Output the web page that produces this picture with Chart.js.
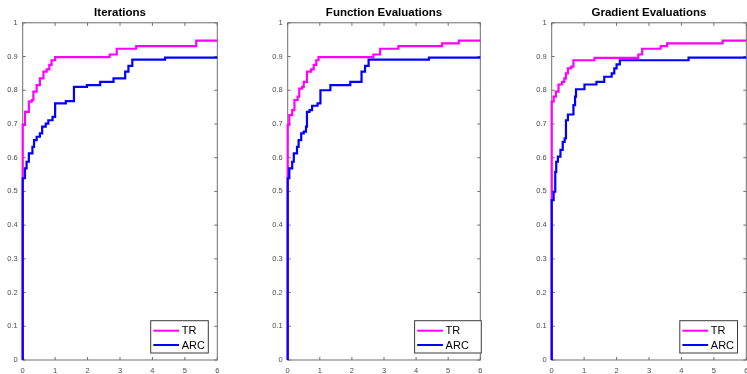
<!DOCTYPE html>
<html>
<head>
<meta charset="utf-8">
<script src="https://cdn.jsdelivr.net/npm/chart.js@4.4.0/dist/chart.umd.min.js"></script>
<style>
  body { margin: 0; width: 747px; height: 374px; overflow: hidden; background: #fff; position: relative; }
  .panel { position: absolute; top: 0; height: 374px; }
</style>
</head>
<body>
<div class="panel" style="left:0px;width:240px"><canvas id="iterChart"></canvas></div>
<div class="panel" style="left:265px;width:238px"><canvas id="funcChart"></canvas></div>
<div class="panel" style="left:529px;width:240px"><canvas id="gradChart"></canvas></div>
<script>
// tick labels
const xTicks = [0, 1, 2, 3, 4, 5, 6]
const yTicks = [0, 0.1, 0.2, 0.3, 0.4, 0.5, 0.6, 0.7, 0.8, 0.9, 1]
const seriesNames = ['TR', 'ARC']

// Iterations
const iterTR_x = [0, 0, 0.07, 0.19, 0.28, 0.33, 0.43, 0.53, 0.64, 0.74, 0.82, 0.89, 1.0, 2.68, 2.9, 3.5, 5.35, 6]
const iterTR_y = [0, 0.697, 0.736, 0.766, 0.771, 0.796, 0.815, 0.835, 0.855, 0.862, 0.875, 0.889, 0.898, 0.906, 0.923, 0.931, 0.947, 0.947]
const iterARC_x = [0, 0, 0.07, 0.12, 0.19, 0.3, 0.35, 0.43, 0.53, 0.6, 0.71, 0.79, 0.92, 1.0, 1.33, 1.58, 1.98, 2.39, 2.8, 3.16, 3.26, 3.38, 4.39, 6]
const iterARC_y = [0, 0.539, 0.568, 0.588, 0.613, 0.632, 0.652, 0.662, 0.672, 0.692, 0.701, 0.711, 0.721, 0.761, 0.768, 0.810, 0.815, 0.825, 0.835, 0.855, 0.872, 0.891, 0.897, 0.897]

// Function Evaluations
const funcTR_x = [0, 0, 0.05, 0.14, 0.21, 0.31, 0.36, 0.45, 0.5, 0.6, 0.73, 0.81, 0.89, 0.96, 2.67, 2.88, 3.45, 4.81, 5.33, 6]
const funcTR_y = [0, 0.697, 0.726, 0.741, 0.771, 0.781, 0.805, 0.810, 0.825, 0.855, 0.862, 0.875, 0.889, 0.898, 0.906, 0.923, 0.931, 0.939, 0.947, 0.947]
const funcARC_x = [0, 0, 0.05, 0.14, 0.19, 0.29, 0.34, 0.42, 0.5, 0.57, 0.6, 0.68, 0.76, 0.93, 1.02, 1.33, 1.95, 2.3, 2.41, 2.52, 4.4, 6]
const funcARC_y = [0, 0.539, 0.568, 0.588, 0.613, 0.632, 0.652, 0.672, 0.677, 0.692, 0.736, 0.741, 0.754, 0.761, 0.800, 0.815, 0.825, 0.855, 0.872, 0.891, 0.897, 0.897]

// Gradient Evaluations
const gradTR_x = [0, 0, 0.06, 0.13, 0.21, 0.32, 0.39, 0.44, 0.5, 0.6, 0.67, 1.32, 2.67, 2.79, 3.36, 3.56, 5.27, 6]
const gradTR_y = [0, 0.766, 0.781, 0.796, 0.817, 0.825, 0.835, 0.850, 0.865, 0.870, 0.889, 0.896, 0.906, 0.923, 0.931, 0.939, 0.947, 0.947]
const gradARC_x = [0, 0, 0.06, 0.11, 0.14, 0.19, 0.27, 0.34, 0.4, 0.44, 0.5, 0.67, 0.72, 0.75, 1.01, 1.38, 1.62, 1.85, 1.93, 2.0, 2.1, 4.22, 6]
const gradARC_y = [0, 0.474, 0.499, 0.558, 0.588, 0.603, 0.623, 0.647, 0.657, 0.711, 0.728, 0.756, 0.781, 0.803, 0.817, 0.825, 0.840, 0.850, 0.865, 0.877, 0.889, 0.897, 0.897]

const colorTR = '#ff00ff'
const colorARC = '#0000ff'
const axisColor = '#6e6e6e'
const tickFont = {family: 'Liberation Sans', size: 7.5}

function zipPoints(xs, ys) {
    return xs.map((x, i) => ({x: x, y: ys[i]}))
}

// draws the matlab style box with inward ticks, and the legend
const boxPlugin = {
    id: 'box',
    beforeDatasetsDraw(chart) {
        const ctx = chart.ctx
        const a = chart.chartArea
        const x = chart.scales.x, y = chart.scales.y
        ctx.save()
        ctx.strokeStyle = axisColor
        ctx.lineWidth = 1
        ctx.strokeRect(a.left, a.top, a.right - a.left, a.bottom - a.top)
        ctx.beginPath()
        x.ticks.forEach(t => {
            const px = x.getPixelForValue(t.value)
            ctx.moveTo(px, a.bottom); ctx.lineTo(px, a.bottom - 3)
            ctx.moveTo(px, a.top); ctx.lineTo(px, a.top + 3)
        })
        y.ticks.forEach(t => {
            const py = y.getPixelForValue(t.value)
            ctx.moveTo(a.left, py); ctx.lineTo(a.left + 3, py)
            ctx.moveTo(a.right, py); ctx.lineTo(a.right - 3, py)
        })
        ctx.stroke()
        ctx.restore()
    },
    afterDatasetsDraw(chart, args, opts) {
        const ctx = chart.ctx
        const a = chart.chartArea
        const right = a.right - opts.inset
        const left = right - opts.width
        const bottom = a.bottom - 7
        const top = bottom - 32.3
        ctx.save()
        ctx.fillStyle = '#fff'
        ctx.fillRect(left, top, right - left, bottom - top)
        ctx.strokeStyle = '#3a3a3a'
        ctx.lineWidth = 1
        ctx.strokeRect(left, top, right - left, bottom - top)
        const datasets = chart.data.datasets
        const rows = [datasets.find(d => d.label === 'TR'), datasets.find(d => d.label === 'ARC')]
        rows.forEach((d, i) => {
            const ly = top + 10 + i * 14.3
            ctx.strokeStyle = d.borderColor
            ctx.lineWidth = 2
            ctx.beginPath()
            ctx.moveTo(left + 2.6, ly)
            ctx.lineTo(left + 28.3, ly)
            ctx.stroke()
            ctx.fillStyle = '#000'
            ctx.font = '11px "Liberation Sans"'
            ctx.textBaseline = 'middle'
            ctx.fillText(d.label, left + 31, ly + 0.5)
        })
        ctx.restore()
    }
}

function makePanel(canvasId, title, trX, trY, arcX, arcY, legendInset, legendWidth) {
    let canvas = document.getElementById(canvasId)
    return new Chart(canvas, {
        type: 'line',
        data: {
            datasets: [
                {
                    label: seriesNames[1],
                    data: zipPoints(arcX, arcY),
                    borderColor: colorARC,
                    borderWidth: 2.2,
                    stepped: 'before',
                    pointRadius: 0,
                    clip: false,
                    order: 0
                },
                {
                    label: seriesNames[0],
                    data: zipPoints(trX, trY),
                    borderColor: colorTR,
                    borderWidth: 2.2,
                    stepped: 'before',
                    pointRadius: 0,
                    clip: false,
                    order: 1
                }
            ]
        },
        options: {
            responsive: true,
            maintainAspectRatio: false,
            animation: false,
            layout: {padding: {left: 0, right: 22.7, top: 0, bottom: 0}},
            plugins: {
                legend: {display: false},
                tooltip: {enabled: false},
                title: {
                    display: true,
                    text: title,
                    fullSize: false,
                    color: '#000',
                    font: {family: 'Liberation Sans', size: 11.5, weight: 'bold'},
                    padding: {top: 5.5, bottom: 3.5}
                },
                box: {inset: legendInset, width: legendWidth}
            },
            scales: {
                x: {
                    type: 'linear',
                    min: 0,
                    max: 6,
                    afterBuildTicks: s => { s.ticks = xTicks.map(v => ({value: v})) },
                    afterFit: s => { s.height = 14 },
                    ticks: {font: tickFont, color: '#4a4a4a', padding: 6, maxRotation: 0,
                            callback: v => String(v)},
                    grid: {display: false, drawTicks: false},
                    border: {display: false}
                },
                y: {
                    min: 0,
                    max: 1,
                    afterBuildTicks: s => { s.ticks = yTicks.map(v => ({value: v})) },
                    afterFit: s => { s.width = 22.7 },
                    ticks: {font: tickFont, color: '#4a4a4a', padding: 5,
                            callback: v => String(Math.round(v * 10) / 10)},
                    grid: {display: false, drawTicks: false},
                    border: {display: false}
                }
            }
        },
        plugins: [boxPlugin]
    })
}

iterChart = makePanel('iterChart', 'Iterations', iterTR_x, iterTR_y, iterARC_x, iterARC_y, 9, 57.6)
funcChart = makePanel('funcChart', 'Function Evaluations', funcTR_x, funcTR_y, funcARC_x, funcARC_y, -1, 66.7)
gradChart = makePanel('gradChart', 'Gradient Evaluations', gradTR_x, gradTR_y, gradARC_x, gradARC_y, 8.8, 57.7)
</script>
</body>
</html>
